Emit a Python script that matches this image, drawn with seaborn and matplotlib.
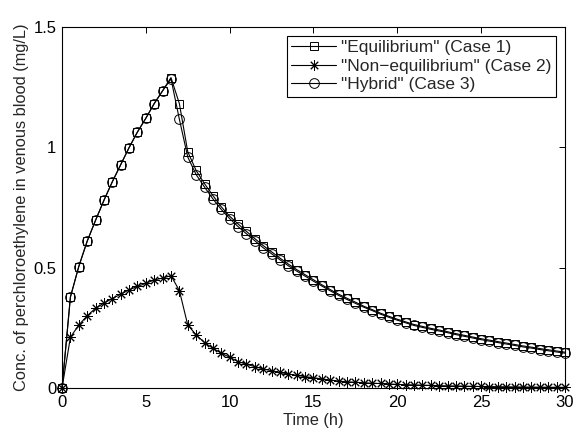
import numpy as np
import pandas as pd
import matplotlib
matplotlib.use("Agg")
import matplotlib.pyplot as plt
import seaborn as sns

time_h = np.arange(0, 30.5, 0.5)

case1_equilibrium = [
    0.0, 0.378, 0.505, 0.610, 0.697, 0.780, 0.857, 0.928, 0.999, 1.064,
    1.121, 1.182, 1.235, 1.290, 1.182, 0.982, 0.904, 0.849, 0.800, 0.753,
    0.714, 0.682, 0.651, 0.621, 0.592, 0.566, 0.540, 0.515, 0.492, 0.471,
    0.450, 0.429, 0.409, 0.390, 0.373, 0.357, 0.340, 0.326, 0.311, 0.298,
    0.286, 0.275, 0.264, 0.256, 0.248, 0.241, 0.234, 0.226, 0.219, 0.212,
    0.205, 0.199, 0.193, 0.187, 0.181, 0.175, 0.170, 0.164, 0.159, 0.154,
    0.149,
]

case2_nonequilibrium = [
    0.0, 0.211, 0.262, 0.300, 0.332, 0.353, 0.372, 0.390, 0.408, 0.422,
    0.435, 0.449, 0.457, 0.467, 0.405, 0.262, 0.221, 0.189, 0.165, 0.145,
    0.128, 0.110, 0.099, 0.089, 0.079, 0.072, 0.065, 0.058, 0.053, 0.047,
    0.043, 0.038, 0.033, 0.029, 0.026, 0.024, 0.022, 0.020, 0.019, 0.017,
    0.015, 0.014, 0.013, 0.012, 0.011, 0.010, 0.009, 0.0085, 0.008, 0.007,
    0.0065, 0.006, 0.0055, 0.005, 0.0047, 0.0044, 0.004, 0.0037, 0.0034, 0.0031,
    0.003,
]

case3_hybrid = [
    0.0, 0.378, 0.505, 0.610, 0.697, 0.780, 0.857, 0.928, 0.999, 1.064,
    1.121, 1.182, 1.235, 1.285, 1.117, 0.960, 0.887, 0.835, 0.786, 0.742,
    0.704, 0.671, 0.641, 0.612, 0.583, 0.558, 0.533, 0.508, 0.486, 0.465,
    0.444, 0.424, 0.404, 0.385, 0.368, 0.352, 0.336, 0.322, 0.307, 0.294,
    0.282, 0.271, 0.260, 0.252, 0.244, 0.237, 0.230, 0.222, 0.215, 0.208,
    0.201, 0.195, 0.189, 0.183, 0.177, 0.171, 0.166, 0.160, 0.155, 0.150,
    0.145,
]

labels = ['"Equilibrium" (Case 1)', '"Non\u2212equilibrium" (Case 2)', '"Hybrid" (Case 3)']
x_ticks = [0, 5, 10, 15, 20, 25, 30]
y_ticks = [0, 0.5, 1, 1.5]
y_tick_labels = ["0", "0.5", "1", "1.5"]

sns.set_style("white")
plt.rcParams["font.family"] = ["Liberation Sans", "DejaVu Sans"]
plt.rcParams["font.size"] = 12

fig = plt.figure(figsize=(5.77, 4.36), dpi=100)
ax = fig.add_axes([0.1075, 0.110, 0.8715, 0.828])

series = [case1_equilibrium, case2_nonequilibrium, case3_hybrid]
markers = ["s", (8, 2, 0), "o"]
msizes = [6.3, 7.5, 7.0]
for vals, lab, mk, ms in zip(series, labels, markers, msizes):
    df = pd.DataFrame({"t": time_h, "c": vals})
    sns.lineplot(data=df, x="t", y="c", ax=ax, color="black", linewidth=0.8,
                 marker=mk, markersize=ms, markerfacecolor="none",
                 markeredgecolor="black", markeredgewidth=0.7, label=lab,
                 clip_on=False)

ax.set_xlim(0, 30)
ax.set_ylim(0, 1.5)
ax.set_xticks(x_ticks)
ax.set_yticks(y_ticks)
ax.set_yticklabels(y_tick_labels)
ax.set_xlabel("Time (h)", fontsize=11.8, labelpad=2)
ax.set_ylabel("Conc. of perchloroethylene in venous blood (mg/L)", fontsize=11.8, labelpad=3)
ax.tick_params(axis="both", direction="in", length=4, width=0.7, top=True, right=True,
               labelsize=12, colors="black")
ax.tick_params(axis="x", pad=5)
ax.tick_params(axis="y", pad=4)
for s in ax.spines.values():
    s.set_visible(True)
    s.set_color("black")
    s.set_linewidth(0.8)
    s.set_zorder(0.5)

leg = ax.legend(loc="upper right", fancybox=False, frameon=True, edgecolor="black",
                framealpha=1, fontsize=12.5, handlelength=2.6, borderpad=0.25,
                labelspacing=0.2, handletextpad=0.3, borderaxespad=0.5)
leg.get_frame().set_linewidth(0.8)

fig.savefig("out.png", dpi=100)
